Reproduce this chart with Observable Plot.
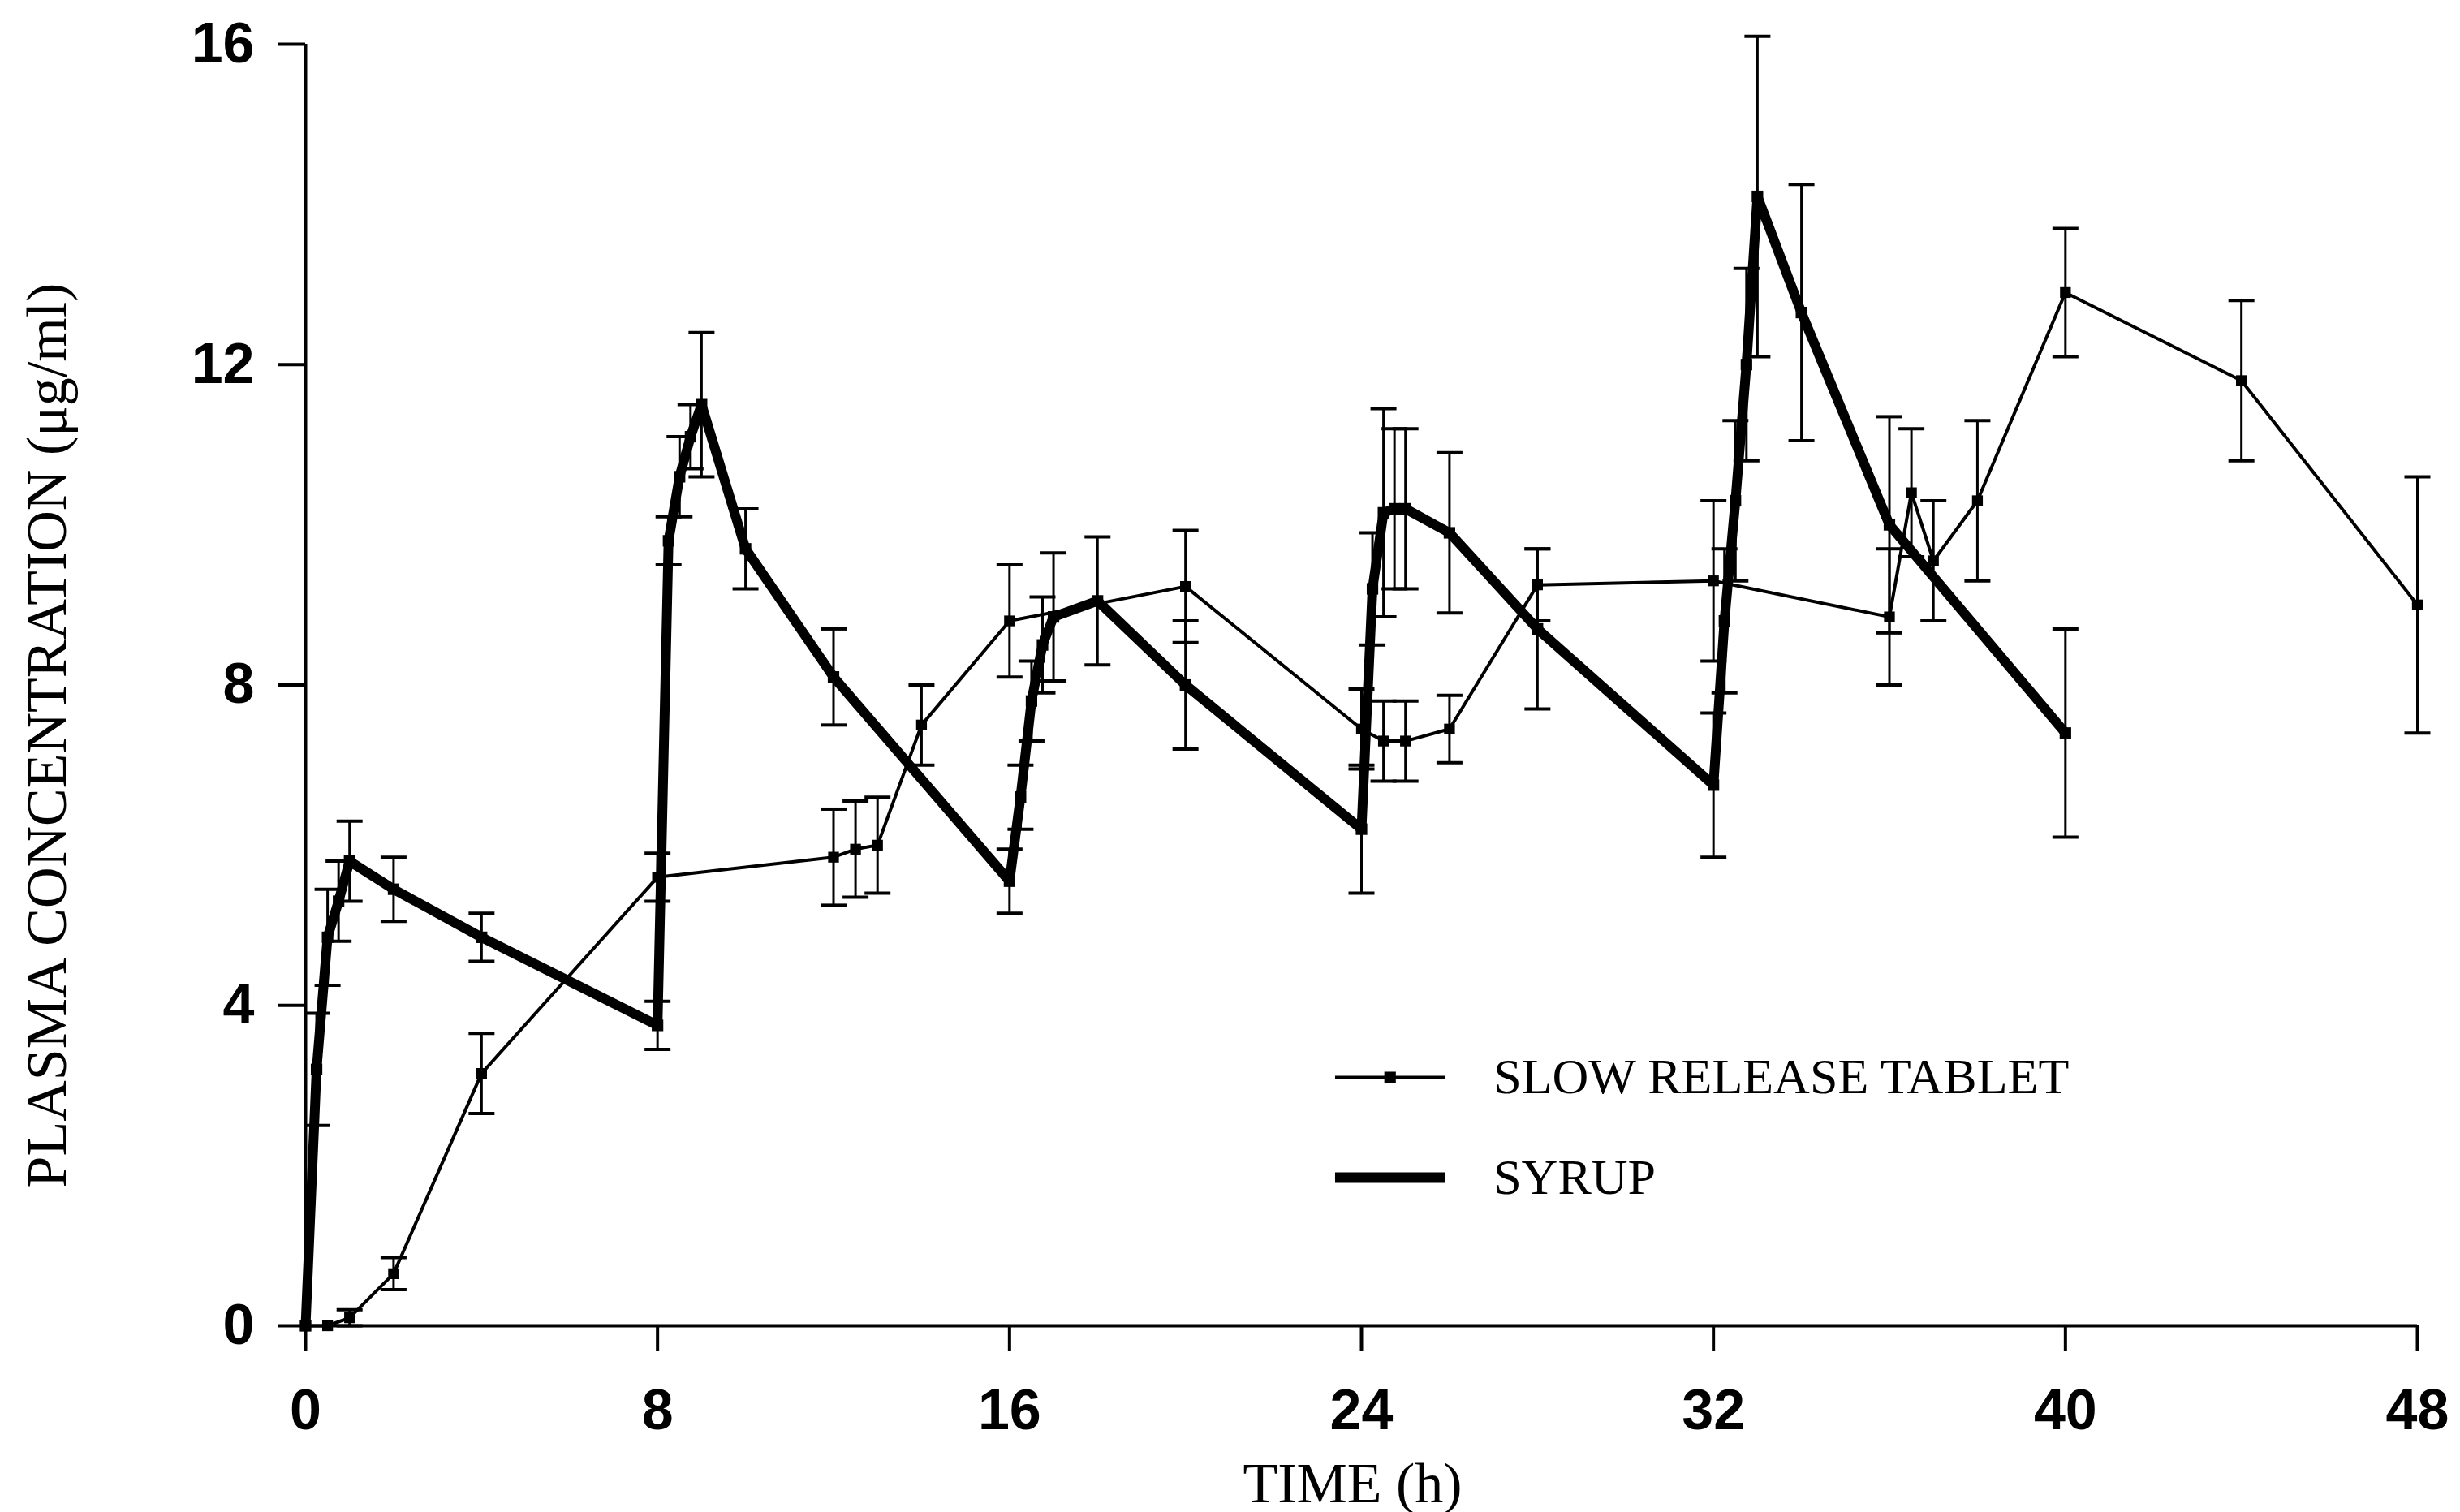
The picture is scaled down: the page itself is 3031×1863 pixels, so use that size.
<!DOCTYPE html>
<html>
<head>
<meta charset="utf-8">
<script src="https://cdn.jsdelivr.net/npm/d3@7"></script>
<script src="https://cdn.jsdelivr.net/npm/@observablehq/plot@0.6"></script>
<style>
  html, body { margin: 0; padding: 0; background: #fff; }
  #chart svg { display: block; }
</style>
</head>
<body>
<div id="chart"></div>
<script>
// ---- Data ----
const xTicks = [0, 8, 16, 24, 32, 40, 48];
const yTicks = [0, 4, 8, 12, 16];

// Slow release tablet: time (h), mean conc (µg/ml), error bar half-length
const tabletTime = [0, 0.5, 1, 2, 4, 8, 12, 12.5, 13, 14, 16, 20, 24, 24.5, 25, 26, 28, 32, 36, 36.5, 37, 38, 40, 44, 48];
const tabletConc = [0, 0, 0.1, 0.65, 3.15, 5.6, 5.85, 5.95, 6.0, 7.5, 8.8, 9.23, 7.45, 7.3, 7.3, 7.45, 9.25, 9.3, 8.85, 10.4, 9.55, 10.3, 12.9, 11.8, 9.0];
const tabletErr  = [0, 0, 0.1, 0.2, 0.5, 0.3, 0.6, 0.6, 0.6, 0.5, 0.7, 0.7, 0.5, 0.5, 0.5, 0.42, 0.45, 1.0, 0.85, 0.8, 0.75, 1.0, 0.8, 1.0, 1.6];

// Syrup
const syrupTime = [0, 0.25, 0.5, 0.75, 1, 2, 4, 8, 8.25, 8.5, 8.75, 9, 10, 12, 16, 16.25, 16.5, 16.75, 17, 18, 20, 24, 24.25, 24.5, 24.75, 25, 26, 28, 32, 32.25, 32.5, 32.75, 33, 34, 36, 40];
const syrupConc = [0, 3.2, 4.85, 5.3, 5.8, 5.45, 4.85, 3.75, 9.8, 10.6, 11.1, 11.5, 9.7, 8.1, 5.55, 6.6, 7.8, 8.5, 8.85, 9.05, 8.0, 6.2, 9.2, 10.15, 10.2, 10.2, 9.9, 8.7, 6.75, 8.8, 10.3, 12.0, 14.1, 12.65, 10.0, 7.4];
const syrupErr  = [0, 0.7, 0.6, 0.5, 0.5, 0.4, 0.3, 0.3, 0.3, 0.5, 0.4, 0.9, 0.5, 0.6, 0.4, 0.4, 0.5, 0.6, 0.8, 0.8, 0.8, 0.8, 0.7, 1.3, 1.0, 1.0, 1.0, 1.0, 0.9, 0.9, 1.0, 1.2, 2.0, 1.6, 1.35, 1.3];

const seriesNames = ["SLOW RELEASE TABLET", "SYRUP"];
const xTitle = "TIME (h)";
const yTitle = "PLASMA CONCENTRATION (\u03bcg/ml)";

// ---- Build tables ----
const tablet = tabletTime.map((t, i) => ({t, c: tabletConc[i], e: tabletErr[i]}));
const syrup  = syrupTime.map((t, i) => ({t, c: syrupConc[i], e: syrupErr[i]}));
const withErr = arr => arr.filter(d => d.e > 0);

// Legend layout (in data units of the plot)
const legendX1 = 23.4, legendX2 = 25.9, legendTextX = 27.0;
const legendRows = [3.1, 1.85];
const legendLines = [
  {x1: legendX1, x2: legendX2, y: legendRows[0], label: seriesNames[0], w: 4},
  {x1: legendX1, x2: legendX2, y: legendRows[1], label: seriesNames[1], w: 13}
];

// Custom horizontal-cap symbol for error bars
const capSymbol = {
  draw(context, size) {
    const w = 16;
    context.moveTo(-w, 0);
    context.lineTo(w, 0);
  }
};

const sans = "'Liberation Sans', Arial, Helvetica, sans-serif";
const serif = "'Liberation Serif', 'Times New Roman', Times, serif";

const chart = Plot.plot({
  width: 3031,
  height: 1863,
  marginLeft: 376,
  marginRight: 53,
  marginTop: 54,
  marginBottom: 230,
  x: {domain: [xTicks[0], xTicks[xTicks.length - 1]]},
  y: {domain: [yTicks[0], yTicks[yTicks.length - 1]]},
  style: {background: "#fff", color: "#000", fontFamily: sans, fontSize: "70px", overflow: "visible"},
  marks: [
    // axes
    Plot.axisY({ticks: yTicks, tickSize: 33, tickPadding: 30, strokeWidth: 4, fontWeight: "bold", fontSize: 70, fontFamily: sans, label: null}),
    Plot.axisX({ticks: xTicks, tickSize: 32, tickPadding: 46, strokeWidth: 4, fontWeight: "bold", fontSize: 70, fontFamily: sans, label: null}),
    Plot.ruleX([xTicks[0]], {y1: yTicks[0], y2: yTicks[yTicks.length - 1], strokeWidth: 4}),
    Plot.ruleY([yTicks[0]], {x1: xTicks[0], x2: xTicks[xTicks.length - 1], strokeWidth: 4}),

    // error bars
    Plot.ruleX(withErr(tablet), {x: "t", y1: d => d.c - d.e, y2: d => d.c + d.e, strokeWidth: 3}),
    Plot.ruleX(withErr(syrup), {x: "t", y1: d => d.c - d.e, y2: d => d.c + d.e, strokeWidth: 3}),
    Plot.dot(withErr(tablet), {x: "t", y: d => d.c + d.e, symbol: capSymbol, fill: "none", stroke: "#000", strokeWidth: 4}),
    Plot.dot(withErr(tablet), {x: "t", y: d => d.c - d.e, symbol: capSymbol, fill: "none", stroke: "#000", strokeWidth: 4}),
    Plot.dot(withErr(syrup), {x: "t", y: d => d.c + d.e, symbol: capSymbol, fill: "none", stroke: "#000", strokeWidth: 4}),
    Plot.dot(withErr(syrup), {x: "t", y: d => d.c - d.e, symbol: capSymbol, fill: "none", stroke: "#000", strokeWidth: 4}),

    // series lines
    Plot.line(tablet, {x: "t", y: "c", stroke: "#000", strokeWidth: 4, strokeLinejoin: "round"}),
    Plot.dot(tablet, {x: "t", y: "c", symbol: "square", r: 7.5, fill: "#000"}),
    Plot.line(syrup, {x: "t", y: "c", stroke: "#000", strokeWidth: 12, strokeLinejoin: "round", strokeLinecap: "round"}),
    Plot.dot(syrup, {x: "t", y: "c", symbol: "square", r: 8, fill: "#000"}),

    // legend
    Plot.link(legendLines, {x1: "x1", x2: "x2", y1: "y", y2: "y", stroke: "#000", strokeWidth: "w"}),
    Plot.dot([legendLines[0]], {x: d => (d.x1 + d.x2) / 2, y: "y", symbol: "square", r: 8, fill: "#000"}),
    Plot.text(legendLines, {x: () => legendTextX, y: "y", text: "label", textAnchor: "start", fontFamily: serif, fontSize: 62, fill: "#000"}),

    // axis titles
    Plot.text([xTitle], {frameAnchor: "bottom", dx: -11, dy: 217, text: d => d, fontFamily: serif, fontSize: 70, fill: "#000"}),
    Plot.text([yTitle], {frameAnchor: "left", textAnchor: "middle", lineAnchor: "middle", dx: -318, dy: 62, rotate: -90, text: d => d, fontFamily: serif, fontSize: 70, fill: "#000"})
  ]
});

document.getElementById("chart").appendChild(chart);
</script>
</body>
</html>
